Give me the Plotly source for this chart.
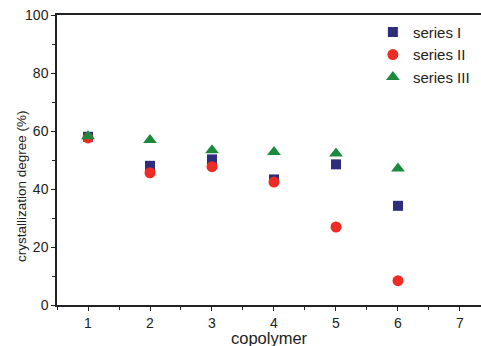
import plotly.graph_objects as go

copolymer = [1, 2, 3, 4, 5, 6]
series_I = [58.0, 48.0, 50.2, 43.3, 48.5, 34.2]
series_II = [57.6, 45.6, 47.7, 42.4, 26.9, 8.4]
series_III = [58.2, 56.9, 53.4, 52.8, 52.2, 47.1]

fig = go.Figure()
fig.add_trace(go.Scatter(x=copolymer, y=series_I, mode="markers", name="series I",
                         marker=dict(symbol="square", size=10, color="#2e2c7c")))
fig.add_trace(go.Scatter(x=copolymer, y=series_II, mode="markers", name="series II",
                         marker=dict(symbol="circle", size=11, color="#ee2b25")))
fig.add_trace(go.Scatter(x=copolymer, y=series_III, mode="markers", name="series III",
                         marker=dict(symbol="triangle-up", size=12, color="#1b8a3c")))

font = "Liberation Sans, Arial, sans-serif"
fig.update_layout(
    width=481, height=346,
    margin=dict(l=57, r=0, t=15, b=41),
    paper_bgcolor="white", plot_bgcolor="white",
    font=dict(family=font, size=14, color="#222"),
    showlegend=True,
    legend=dict(x=0.745, y=0.997, xanchor="left", yanchor="top",
                bgcolor="rgba(0,0,0,0)", font=dict(size=15, color="#222"),
                itemsizing="trace", tracegroupgap=0),
    xaxis=dict(range=[0.5, 7.339], tickvals=[1, 2, 3, 4, 5, 6, 7],
               showgrid=False, zeroline=False, showline=True, linecolor="#222",
               linewidth=1.5, mirror=True, ticks="outside", ticklen=4, tickwidth=1,
               tickcolor="#222", tickfont=dict(size=14),
               minor=dict(ticks="outside", ticklen=3, dtick=0.5, tick0=0.5, tickcolor="#222")),
    yaxis=dict(range=[0, 100], tickvals=[0, 20, 40, 60, 80, 100],
               showgrid=False, zeroline=False, showline=True, linecolor="#222",
               linewidth=1.5, ticks="outside", ticklen=4, tickwidth=1, tickcolor="#222",
               tickfont=dict(size=14),
               minor=dict(ticks="outside", ticklen=3, dtick=10, tick0=0, tickcolor="#222")),
    annotations=[
        dict(text="copolymer", xref="paper", yref="paper", x=0.5, y=0,
             xanchor="center", yanchor="middle", yshift=-33, showarrow=False,
             font=dict(size=16.5, color="#222")),
        dict(text="crystallization degree (%)", xref="paper", yref="paper", x=0, y=0.5,
             xanchor="center", yanchor="middle", xshift=-36, yshift=-26, textangle=-90,
             showarrow=False, font=dict(size=13.5, color="#222")),
    ],
)

fig.write_html("out.html")
